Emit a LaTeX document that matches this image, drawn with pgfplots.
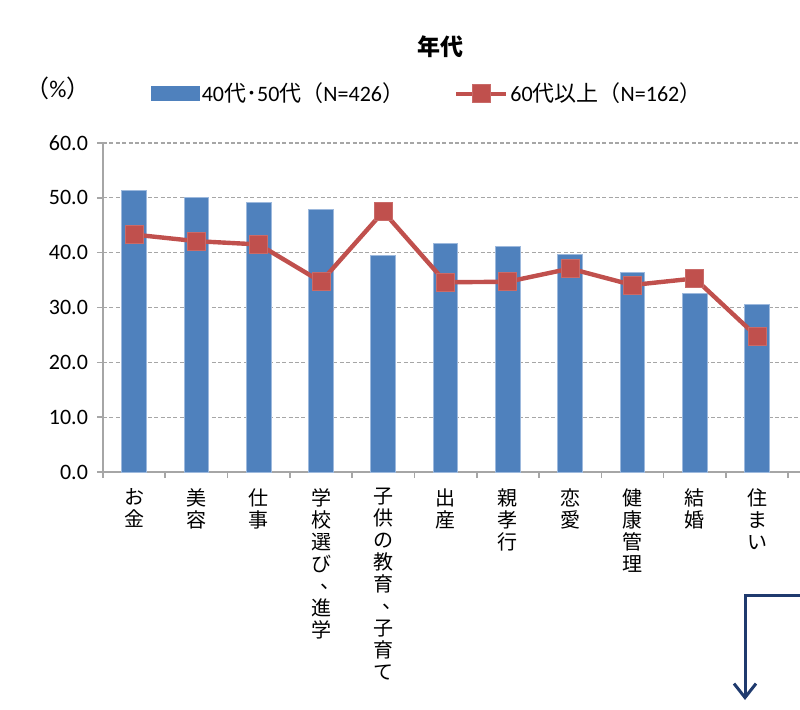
\documentclass[border=0pt]{standalone}
\usepackage{fontspec}
\setmainfont{Carlito}
\newfontfamily\cjk{Noto Sans CJK JP}
\usepackage{pgfplots}
\pgfplotsset{compat=1.18}
\usetikzlibrary{arrows.meta}
\definecolor{barblue}{HTML}{4F81BD}
\definecolor{baredge}{HTML}{9DB9DD}
\definecolor{linered}{HTML}{C0504D}
\definecolor{gridgray}{HTML}{A6A6A6}
\definecolor{navy}{HTML}{1F3A6E}
\newcommand\J[1]{{\cjk #1}}
% vertical-writing comma: sits in the upper right of its cell
\newcommand\tc{\makebox[1em][l]{\kern0.45em\raisebox{0.25em}{、}}}
\tikzset{redline/.style={linered, line width=2.2pt, mark=square*, mark size=4.5pt,
  mark options={fill=linered, draw=linered!85!white, line width=0.5pt}}}

\begin{document}
\begin{tikzpicture}
\useasboundingbox (0,0) rectangle (400pt,354.5pt);
\begin{axis}[
  at={(51.5pt,118.5pt)}, anchor=south west,
  scale only axis, width=348.5pt, height=164.5pt,
  xmin=-0.5, xmax=10.69, ymin=0, ymax=60,
  axis x line=bottom, axis y line=left,
  axis line style={-, draw=gridgray, line width=0.8pt},
  tick align=outside,
  major tick length=3pt, minor tick length=3pt,
  xtick={0,...,10},
  minor xtick={-0.5,0.5,...,10.5},
  major x tick style={draw=none},
  minor x tick style={draw=gridgray, line width=0.8pt},
  ytick={0,10,...,60},
  y tick style={draw=gridgray, line width=0.8pt},
  ymajorgrids,
  grid style={draw=gridgray, line width=0.6pt, dash pattern=on 2pt off 1.2pt},
  yticklabel style={/pgf/number format/fixed, /pgf/number format/fixed zerofill,
    /pgf/number format/precision=1, /pgf/number format/assume math mode=true,
    font=\fontsize{11}{12}\selectfont, xshift=-1pt},
  xticklabels={{お\\金},{美\\容},{仕\\事},{学\\校\\選\\び\\\tc\\進\\学},
    {子\\供\\の\\教\\育\\\tc\\子\\育\\て},{出\\産},{親\\孝\\行},{恋\\愛},
    {健\\康\\管\\理},{結\\婚},{住\\ま\\い}},
  xticklabel style={font=\cjk\fontsize{10}{11}\selectfont, align=center, anchor=north, inner sep=0pt, yshift=-5pt},
  legend style={at={(0.465,1.149)}, anchor=center, draw=none, fill=none,
    font=\fontsize{11}{12}\selectfont, inner sep=0pt,
    nodes={inner sep=1pt},
    /tikz/every even column/.append style={column sep=24pt}},
  legend columns=2,
  legend cell align=left,
]
\addplot[ybar, bar width=12.3pt, fill=barblue, draw=baredge, line width=0.5pt,
  legend image code/.code={\fill[barblue] (0pt,-3.5pt) rectangle (24pt,3.5pt);}]
  coordinates {(0,51.4) (1,50.0) (2,49.1) (3,47.9) (4,39.5) (5,41.6)
               (6,41.1) (7,39.6) (8,36.4) (9,32.6) (10,30.5)};
\addlegendentry{40\J{代･}50\J{代（}N=426\J{）}}
\addplot[redline,
  legend image code/.code={\draw[redline, mark repeat=2, mark phase=2] plot coordinates {(0pt,0pt) (12.5pt,0pt) (25pt,0pt)};}]
  coordinates {(0,43.3) (1,42.1) (2,41.5) (3,34.7) (4,47.5) (5,34.6)
               (6,34.7) (7,37.1) (8,34.1) (9,35.3) (10,24.7)};
\addlegendentry{60\J{代以上（}N=162\J{）}}
\end{axis}
\node at (220pt,331pt) {\cjk\bfseries\fontsize{11.5}{13}\selectfont 年代};
\node at (29pt,310.5pt) {\fontsize{12}{13}\selectfont\J{（}\%\J{）}};
\draw[navy, line width=1.5pt, -{Straight Barb[length=7pt,width=11pt]}]
  (400pt,57pt) -- (372.5pt,57pt) -- (372.5pt,4.5pt);
\end{tikzpicture}
\end{document}
